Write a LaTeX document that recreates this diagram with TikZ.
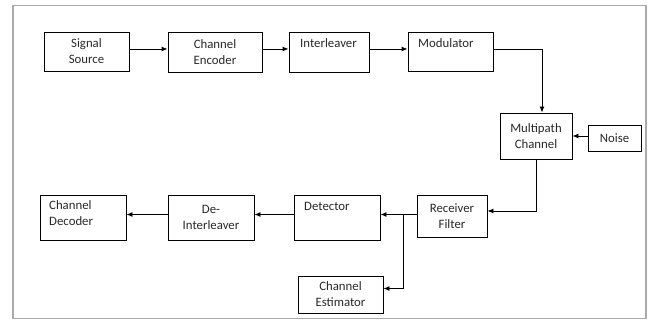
\documentclass[tikz,border=0pt]{standalone}
\usepackage{fontspec}
\setmainfont{Carlito}
\usetikzlibrary{arrows.meta}
\definecolor{framegray}{RGB}{170,170,170}
\definecolor{inkgray}{RGB}{40,40,40}
\tikzset{
  blk/.style={draw=black, line width=0.9pt, inner sep=0pt, text=inkgray,
    font=\fontsize{12.8}{16}\selectfont, align=center},
  lbl/.style={inner sep=0pt, text=inkgray, font=\fontsize{12.8}{16}\selectfont,
    align=left, anchor=base west},
  flow/.style={draw=black, line width=0.9pt, -{Latex[length=6pt,width=5pt]}},
}
\begin{document}
\begin{tikzpicture}[x=1pt, y=-1pt]
  \useasboundingbox (0,0) rectangle (649,320);
  % outer frame
  \draw[framegray, line width=1.6pt] (13,5.5) rectangle (646,318.5);

  % reference rows / columns for the connectors
  \coordinate (rowA) at (0,49);
  \coordinate (rowB) at (0,214.5);
  \coordinate (dropA) at (542,0);
  \coordinate (rowC) at (0,211);
  \coordinate (tapX) at (403,0);
  \coordinate (rowD) at (0,288.5);

  % transmitter chain
  \node[blk, minimum width=85pt, minimum height=39pt] (src) at (86.5,51.5) {Signal\\Source};
  \node[blk, minimum width=94pt, minimum height=40pt] (enc) at (215,52) {Channel\\Encoder};
  \node[blk, minimum width=80pt, minimum height=40pt] (ilv) at (329,52) {};
  \node[lbl] (ilvtxt) at (300,47.3) {Interleaver};
  \node[blk, minimum width=85pt, minimum height=39pt] (mod) at (450.5,51.5) {};
  \node[lbl] (modtxt) at (418,47.3) {Modulator};

  % channel
  \node[blk, minimum width=72pt, minimum height=46pt] (mpc) at (536,136) {Multipath\\Channel};
  \node[blk, minimum width=53pt, minimum height=26pt] (noise) at (614.5,138) {Noise};

  % receiver chain
  \node[blk, minimum width=70pt, minimum height=42pt] (rxf) at (452,216) {Receiver\\Filter};
  \node[blk, minimum width=86pt, minimum height=45pt] (det) at (337,217.5) {};
  \node[lbl] (dettxt) at (304,211) {Detector};
  \node[blk, minimum width=85pt, minimum height=37pt] (est) at (340.5,294.5) {Channel\\Estimator};
  \node[blk, minimum width=86pt, minimum height=45pt] (dil) at (211,217.5) {De-\\Interleaver};
  \node[blk, minimum width=86pt, minimum height=45pt] (dec) at (83,217.5) {};
  % baseline of the last line of this label
  \node[lbl] (dectxt) at (49,226) {Channel\\Decoder};

  % connectors
  \draw[flow] (src.east |- rowA) -- (enc.west |- rowA);
  \draw[flow] (enc.east |- rowA) -- (ilv.west |- rowA);
  \draw[flow] (ilv.east |- rowA) -- (mod.west |- rowA);
  \draw[flow] (mod.east |- rowA) -| (mpc.north -| dropA);
  \draw[flow] (noise.west |- mpc.east) -- (mpc.east);
  \draw[flow] (mpc.south) |- (rxf.east |- rowC);
  \draw[flow] (rxf.west |- rowB) -- (det.east |- rowB);
  \draw[flow] (tapX |- rowB) |- (est.east |- rowD);
  \draw[flow] (det.west |- rowB) -- (dil.east |- rowB);
  \draw[flow] (dil.west |- rowB) -- (dec.east |- rowB);
\end{tikzpicture}
\end{document}
